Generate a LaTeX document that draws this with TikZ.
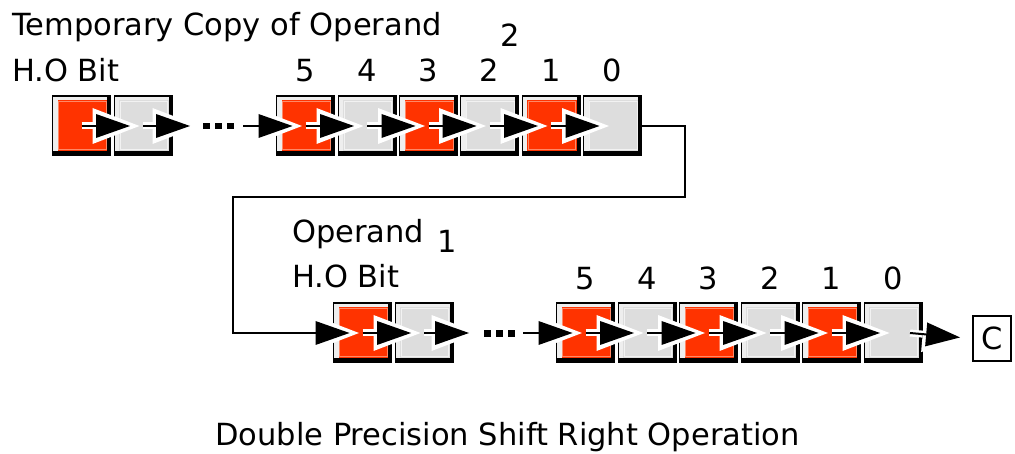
\documentclass[tikz,border=0pt]{standalone}
\usepackage{fontspec}
\setmainfont{DejaVu Sans}
\usetikzlibrary{arrows.meta,calc}
\definecolor{bitred}{HTML}{FF3300}
\definecolor{bitgray}{HTML}{DDDDDD}
\definecolor{bevel}{HTML}{EEEEEE}
\definecolor{redhi}{HTML}{FF8866}
\definecolor{grayhi}{HTML}{F2F2F2}
\tikzset{
  bitbox/.style 2 args={rectangle, inner sep=0pt, minimum width=59pt, minimum height=61pt, fill=black,
    path picture={
      \fill[bevel] ($(path picture bounding box.south west)+(1.3pt,5pt)$) rectangle ($(path picture bounding box.north east)+(-3.8pt,-1.5pt)$);
      \fill[#1] ($(path picture bounding box.south west)+(5.5pt,5.5pt)$) rectangle ($(path picture bounding box.north east)+(-3.8pt,-5pt)$);
      \draw[#2, line width=0.8pt] ($(path picture bounding box.south west)+(6.8pt,6.8pt)$) rectangle ($(path picture bounding box.north east)+(-5.1pt,-6.3pt)$);
    }},
  redbit/.style={bitbox={bitred}{redhi}},
  graybit/.style={bitbox={bitgray}{grayhi}},
  bitarrow/.style={line width=2pt, -{Triangle[length=34pt,width=24pt,line width=0pt]}, shorten >=13pt,
    preaction={draw=white, line width=7pt, -{Triangle[length=47pt,width=36pt,line width=0pt]}, shorten >=3.5pt}},
  outarrow/.style={line width=2pt, -{Triangle[length=34pt,width=24pt,line width=0pt]}, shorten >=12pt,
    preaction={draw=white, line width=7pt, -{Triangle[length=47pt,width=36pt,line width=0pt]}, shorten >=2.5pt}},
  label/.style={inner sep=0pt},
  dot/.style={fill=black},
}
\begin{document}
\begin{tikzpicture}[x=1pt,y=-1pt,font=\fontsize{30.5pt}{36pt}\selectfont]
\useasboundingbox (0,0) rectangle (1015,454);
% top row
\node[redbit]  (tA) at (81.5,126) {};
\node[graybit] (tB) at (143,126) {};
\node[redbit]  (t5) at (305.5,126) {};
\node[graybit] (t4) at (367,126) {};
\node[redbit]  (t3) at (428.5,126) {};
\node[graybit] (t2) at (489.5,126) {};
\node[redbit]  (t1) at (551,126) {};
\node[graybit] (t0) at (612.5,126) {};
% bottom row
\node[redbit]  (bA) at (362.5,333) {};
\node[graybit] (bB) at (424,333) {};
\node[redbit]  (b5) at (585.5,333) {};
\node[graybit] (b4) at (647,333) {};
\node[redbit]  (b3) at (708.5,333) {};
\node[graybit] (b2) at (770,333) {};
\node[redbit]  (b1) at (831.5,333) {};
\node[graybit] (b0) at (893,333) {};
% carry
\node[draw, line width=2pt, minimum width=38pt, minimum height=45pt, inner sep=0pt] (C) at (992,338.5) {C};
% texts
\node[label, anchor=base west] (title) at (12,36) {Temporary Copy of Operand};
\node[label, anchor=base] (sub2) at (510,47) {2};
\node[label, anchor=base west] (hoT) at (12,82) {H.O Bit};
\node[label, anchor=base] (dt5) at (305.5,82) {5};
\node[label, anchor=base] (dt4) at (367,82) {4};
\node[label, anchor=base] (dt3) at (428.5,82) {3};
\node[label, anchor=base] (dt2) at (489.5,82) {2};
\node[label, anchor=base] (dt1) at (551,82) {1};
\node[label, anchor=base] (dt0) at (612.5,82) {0};
\node[label, anchor=base west] (op) at (292,243) {Operand};
\node[label, anchor=base] (sub1) at (447,253) {1};
\node[label, anchor=base west] (hoB) at (292,288) {H.O Bit};
\node[label, anchor=base] (db5) at (585.5,290) {5};
\node[label, anchor=base] (db4) at (647,290) {4};
\node[label, anchor=base] (db3) at (708.5,290) {3};
\node[label, anchor=base] (db2) at (770,290) {2};
\node[label, anchor=base] (db1) at (831.5,290) {1};
\node[label, anchor=base] (db0) at (893,290) {0};
\node[label, anchor=base] (cap) at (507.5,445) {Double Precision Shift Right Operation};
% dots
\fill[dot] (203,123) rectangle (209.5,129.5);
\fill[dot] (215,123) rectangle (221.5,129.5);
\fill[dot] (227,123) rectangle (233.5,129.5);
\fill[dot] (484,330.5) rectangle (490.5,337);
\fill[dot] (496,330.5) rectangle (502.5,337);
\fill[dot] (508,330.5) rectangle (514.5,337);
% free ends
\coordinate (tgap1) at (203,126);
\coordinate (tgap2) at (243,126);
\coordinate (bgap1) at (482,333);
\coordinate (bgap2) at (523,333);
\coordinate (fb1) at (685,197);
\coordinate (fb2) at (233,333);
\coordinate (bout) at (910,333);
% arrows top
\draw[bitarrow] (tA.center) -- (tB.center);
\draw[bitarrow] (tB.center) -- (tgap1);
\draw[bitarrow] (tgap2) -- (t5.center);
\draw[bitarrow] (t5.center) -- (t4.center);
\draw[bitarrow] (t4.center) -- (t3.center);
\draw[bitarrow] (t3.center) -- (t2.center);
\draw[bitarrow] (t2.center) -- (t1.center);
\draw[bitarrow] (t1.center) -- (t0.center);
% feedback
\draw[bitarrow] (t0.east) -| (fb1) -| (fb2) -- (bA.center);
% arrows bottom
\draw[bitarrow] (bA.center) -- (bB.center);
\draw[bitarrow] (bB.center) -- (bgap1);
\draw[bitarrow] (bgap2) -- (b5.center);
\draw[bitarrow] (b5.center) -- (b4.center);
\draw[bitarrow] (b4.center) -- (b3.center);
\draw[bitarrow] (b3.center) -- (b2.center);
\draw[bitarrow] (b2.center) -- (b1.center);
\draw[bitarrow] (b1.center) -- (b0.center);
\draw[outarrow] (bout) -- (C.west);
\end{tikzpicture}
\end{document}
